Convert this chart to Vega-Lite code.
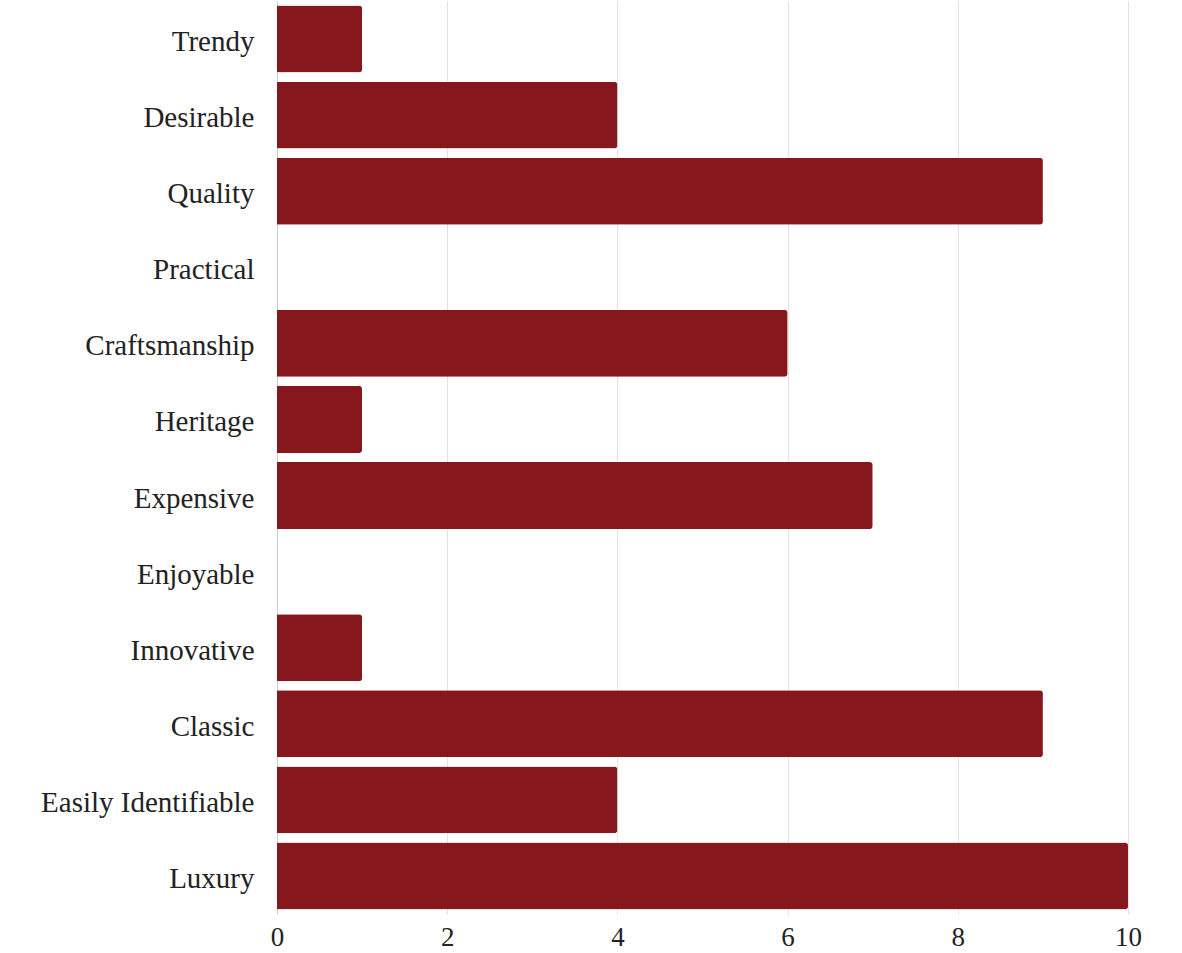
{
  "$schema": "https://vega.github.io/schema/vega-lite/v6.json",
  "autosize": "none",
  "width": 851,
  "height": 913,
  "padding": {"left": 277, "top": 1, "right": 54, "bottom": 39},
  "background": "white",
  "config": {
    "view": {"stroke": null},
    "font": "Liberation Serif"
  },
  "data": {
    "values": [
      {"attribute": "Trendy", "count": 1},
      {"attribute": "Desirable", "count": 4},
      {"attribute": "Quality", "count": 9},
      {"attribute": "Practical", "count": 0},
      {"attribute": "Craftsmanship", "count": 6},
      {"attribute": "Heritage", "count": 1},
      {"attribute": "Expensive", "count": 7},
      {"attribute": "Enjoyable", "count": 0},
      {"attribute": "Innovative", "count": 1},
      {"attribute": "Classic", "count": 9},
      {"attribute": "Easily Identifiable", "count": 4},
      {"attribute": "Luxury", "count": 10}
    ]
  },
  "mark": {"type": "bar", "color": "#86181d", "cornerRadiusEnd": 3},
  "encoding": {
    "y": {
      "field": "attribute",
      "type": "nominal",
      "sort": null,
      "scale": {"paddingInner": 0.12, "paddingOuter": 0.06},
      "axis": {
        "title": null,
        "ticks": false,
        "domain": true,
        "domainColor": "#cccccc",
        "labelFont": "Liberation Serif",
        "labelFontSize": 29,
        "labelColor": "#222222",
        "labelPadding": 23,
        "labelOffset": 3,
        "labelLimit": 300,
        "grid": false
      }
    },
    "x": {
      "field": "count",
      "type": "quantitative",
      "scale": {"domain": [0, 10], "nice": false},
      "axis": {
        "title": null,
        "values": [0, 2, 4, 6, 8, 10],
        "ticks": false,
        "domain": false,
        "grid": true,
        "gridColor": "#e2e2e2",
        "labelFont": "Liberation Serif",
        "labelFontSize": 27,
        "labelColor": "#222222",
        "labelPadding": 10,
        "labelFlush": false
      }
    }
  }
}
